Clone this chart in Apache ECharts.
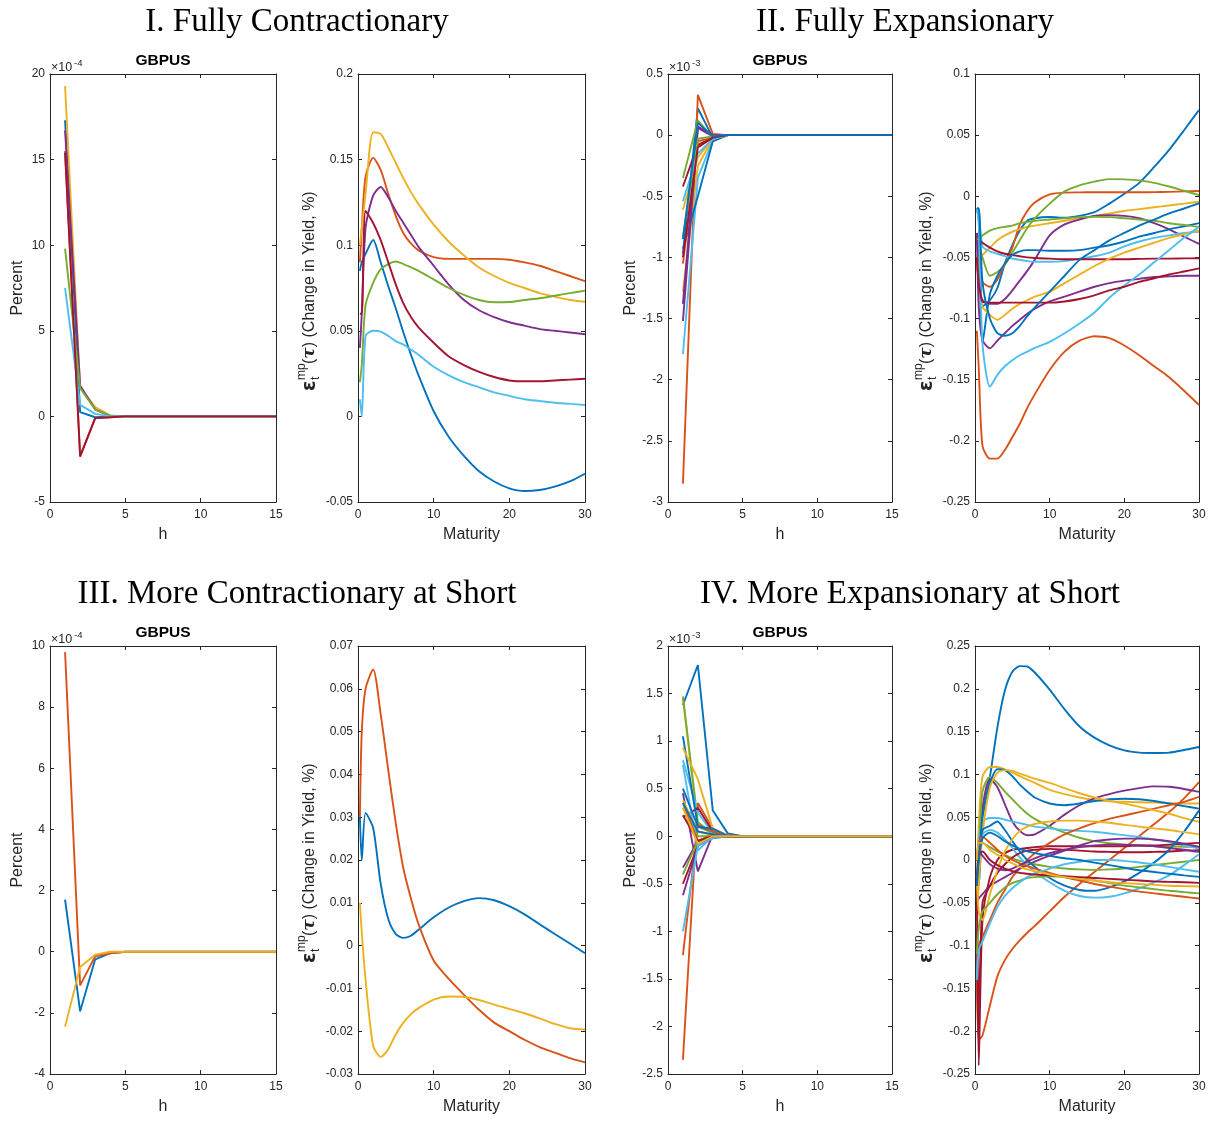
<!DOCTYPE html>
<html><head><meta charset="utf-8">
<script src="https://cdn.jsdelivr.net/npm/echarts/dist/echarts.min.js"></script>
<style>html,body{margin:0;padding:0;background:#fff}#c{width:1211px;height:1122px}</style>
</head><body><div id="c"></div>
<script>
// ---------- shared x grids ----------
const horizon = [1,2,3,4,5,6,7,8,9,10,11,12,13,14,15];
const maturity = [0.25,0.5,1,2,3,4,5,6,7,8,10,12,14,16,18,20,22,24,26,28,30];

// ---------- I. Fully Contractionary ----------
const irfIColors = ['b','o','y','p','g','c','r'];
const irfI = [
 [17.3,0.25,-0.05,0,0,0,0,0,0,0,0,0,0,0,0],
 [15.5,-2.3,-0.1,-0.05,0,0,0,0,0,0,0,0,0,0,0],
 [19.3,1.7,0.55,0.05,0,0,0,0,0,0,0,0,0,0,0],
 [16.7,1.8,0.4,0.03,0,0,0,0,0,0,0,0,0,0,0],
 [9.8,1.65,0.4,0.03,0,0,0,0,0,0,0,0,0,0,0],
 [7.5,0.67,0.15,0,0,0,0,0,0,0,0,0,0,0,0],
 [15.4,-2.35,-0.1,-0.05,0,0,0,0,0,0,0,0,0,0,0]
];
const yldIColors = ['b','o','y','p','g','c','r'];
const yldI = [
 [0.085,0.09,0.095,0.103,0.090,0.076,0.063,0.049,0.036,0.024,0.003,-0.012,-0.023,-0.032,-0.038,-0.042,-0.0436,-0.043,-0.041,-0.038,-0.0335],
 [0.090,0.110,0.140,0.151,0.144,0.130,0.117,0.107,0.101,0.097,0.093,0.092,0.092,0.092,0.092,0.0915,0.090,0.088,0.085,0.082,0.079],
 [0.100,0.110,0.130,0.166,0.165,0.157,0.148,0.139,0.131,0.124,0.112,0.102,0.094,0.087,0.082,0.078,0.075,0.072,0.070,0.068,0.067],
 [0.040,0.060,0.110,0.129,0.134,0.128,0.120,0.113,0.106,0.099,0.088,0.077,0.068,0.062,0.058,0.055,0.053,0.051,0.050,0.049,0.048],
 [0.020,0.030,0.065,0.078,0.086,0.089,0.0905,0.089,0.087,0.085,0.080,0.075,0.071,0.068,0.0667,0.0668,0.068,0.069,0.0705,0.072,0.0735],
 [0.010,0.000,0.047,0.050,0.0495,0.047,0.044,0.042,0.039,0.036,0.029,0.024,0.020,0.017,0.014,0.012,0.010,0.009,0.008,0.0073,0.0067],
 [0.060,0.060,0.120,0.113,0.103,0.090,0.077,0.066,0.058,0.052,0.043,0.035,0.030,0.026,0.023,0.021,0.0205,0.0205,0.021,0.0215,0.022]
];

// ---------- II. Fully Expansionary ----------
const irfIIColors = ['b','o','y','p','g','c','r','b','o','y','p','g','c','r','b'];
const irfII = [
 [-0.97,0.22,-0.02,0,0,0,0,0,0,0,0,0,0,0,0],
 [-2.85,0.33,0.01,0,0,0,0,0,0,0,0,0,0,0,0],
 [-1.28,-0.25,-0.03,0,0,0,0,0,0,0,0,0,0,0,0],
 [-1.52,0.06,-0.01,0,0,0,0,0,0,0,0,0,0,0,0],
 [-0.35,0.12,-0.02,0,0,0,0,0,0,0,0,0,0,0,0],
 [-1.79,-0.35,-0.04,0,0,0,0,0,0,0,0,0,0,0,0],
 [-0.42,-0.08,-0.02,0,0,0,0,0,0,0,0,0,0,0,0],
 [-0.93,-0.50,-0.05,0,0,0,0,0,0,0,0,0,0,0,0],
 [-1.05,-0.05,-0.02,0,0,0,0,0,0,0,0,0,0,0,0],
 [-0.61,-0.18,-0.03,0,0,0,0,0,0,0,0,0,0,0,0],
 [-1.38,0.07,0,0,0,0,0,0,0,0,0,0,0,0,0],
 [-0.83,-0.03,-0.01,0,0,0,0,0,0,0,0,0,0,0,0],
 [-0.54,-0.15,-0.03,0,0,0,0,0,0,0,0,0,0,0,0],
 [-1.00,-0.10,-0.02,0,0,0,0,0,0,0,0,0,0,0,0],
 [-0.85,0.10,-0.01,0,0,0,0,0,0,0,0,0,0,0,0]
];
const yldIIColors = ['b','o','y','p','g','c','r','b','o','y','p','g','c','r','b'];
const yldII = [
 [-0.010,-0.010,-0.090,-0.085,-0.075,-0.055,-0.040,-0.028,-0.020,-0.018,-0.017,-0.0175,-0.016,-0.013,-0.006,0.002,0.011,0.024,0.038,0.054,0.0706],
 [-0.030,-0.050,-0.070,-0.074,-0.068,-0.055,-0.042,-0.023,-0.012,-0.005,0.0015,0.003,0.0032,0.0033,0.0033,0.0033,0.0033,0.0034,0.0036,0.004,0.0043],
 [-0.050,-0.050,-0.048,-0.042,-0.036,-0.032,-0.029,-0.027,-0.025,-0.024,-0.022,-0.020,-0.018,-0.016,-0.014,-0.012,-0.0105,-0.009,-0.0075,-0.006,-0.0044],
 [-0.050,-0.070,-0.085,-0.088,-0.088,-0.084,-0.077,-0.069,-0.061,-0.052,-0.032,-0.023,-0.019,-0.016,-0.0155,-0.016,-0.018,-0.022,-0.027,-0.033,-0.039],
 [-0.035,-0.040,-0.050,-0.065,-0.062,-0.056,-0.046,-0.036,-0.026,-0.018,-0.006,0.004,0.009,0.012,0.014,0.0138,0.013,0.011,0.008,0.0045,0.001],
 [-0.010,-0.012,-0.041,-0.045,-0.047,-0.049,-0.051,-0.052,-0.053,-0.0535,-0.0535,-0.053,-0.051,-0.049,-0.046,-0.041,-0.037,-0.034,-0.032,-0.030,-0.029],
 [-0.030,-0.035,-0.038,-0.042,-0.045,-0.047,-0.048,-0.049,-0.050,-0.0505,-0.051,-0.0515,-0.0515,-0.0515,-0.0515,-0.0515,-0.0512,-0.051,-0.051,-0.0508,-0.0507],
 [-0.010,-0.020,-0.120,-0.080,-0.065,-0.055,-0.048,-0.045,-0.044,-0.044,-0.0445,-0.0445,-0.044,-0.042,-0.040,-0.037,-0.033,-0.030,-0.027,-0.0245,-0.022],
 [-0.110,-0.140,-0.204,-0.2145,-0.2145,-0.2075,-0.197,-0.186,-0.173,-0.162,-0.142,-0.127,-0.118,-0.1145,-0.116,-0.122,-0.130,-0.139,-0.148,-0.159,-0.1707],
 [-0.050,-0.070,-0.090,-0.097,-0.101,-0.097,-0.092,-0.088,-0.085,-0.082,-0.078,-0.071,-0.064,-0.057,-0.051,-0.046,-0.042,-0.038,-0.034,-0.031,-0.028],
 [-0.030,-0.090,-0.1175,-0.1243,-0.118,-0.112,-0.106,-0.101,-0.096,-0.092,-0.086,-0.082,-0.078,-0.074,-0.071,-0.069,-0.0675,-0.066,-0.0655,-0.065,-0.065],
 [-0.035,-0.035,-0.032,-0.028,-0.026,-0.025,-0.024,-0.022,-0.021,-0.020,-0.019,-0.018,-0.017,-0.0168,-0.017,-0.018,-0.019,-0.020,-0.022,-0.0235,-0.025],
 [-0.010,-0.020,-0.120,-0.1557,-0.146,-0.139,-0.134,-0.130,-0.127,-0.124,-0.119,-0.112,-0.104,-0.095,-0.083,-0.073,-0.064,-0.054,-0.044,-0.034,-0.025],
 [-0.050,-0.070,-0.086,-0.087,-0.087,-0.087,-0.087,-0.087,-0.087,-0.087,-0.087,-0.086,-0.084,-0.081,-0.077,-0.074,-0.070,-0.067,-0.064,-0.0615,-0.059],
 [-0.010,-0.010,-0.070,-0.100,-0.112,-0.114,-0.112,-0.106,-0.098,-0.091,-0.078,-0.065,-0.052,-0.044,-0.036,-0.030,-0.024,-0.019,-0.014,-0.010,-0.0057]
];

// ---------- III. More Contractionary at Short ----------
const irfIIIColors = ['b','o','y'];
const irfIII = [
 [1.7,-1.95,-0.25,-0.05,0,0,0,0,0,0,0,0,0,0,0],
 [9.8,-1.1,-0.15,-0.05,0,0,0,0,0,0,0,0,0,0,0],
 [-2.45,-0.5,-0.1,0,0,0,0,0,0,0,0,0,0,0,0]
];
const yldIIIColors = ['b','o','y'];
const yldIII = [
 [0.030,0.020,0.031,0.0275,0.0144,0.0062,0.0027,0.0018,0.0023,0.0037,0.0066,0.0089,0.0104,0.0111,0.0106,0.0092,0.0073,0.0050,0.0027,0.0005,-0.0018],
 [0.030,0.050,0.060,0.0645,0.054,0.041,0.0285,0.018,0.011,0.005,-0.0035,-0.0078,-0.0115,-0.015,-0.018,-0.020,-0.022,-0.0237,-0.025,-0.0263,-0.0273],
 [0.010,0.003,-0.008,-0.0234,-0.026,-0.0242,-0.0207,-0.018,-0.016,-0.0146,-0.0126,-0.0119,-0.012,-0.0127,-0.0138,-0.0148,-0.0158,-0.0170,-0.0183,-0.0193,-0.0196]
];

// ---------- IV. More Expansionary at Short ----------
const irfIVColors = ['b','o','y','p','g','c','r','b','o','y','p','g','c','r','b','o','y','p','g','c','r','b','y'];
const irfIV = [
 [1.38,1.80,0.27,0.03,0,0,0,0,0,0,0,0,0,0,0],
 [-2.35,0.35,0.08,0.01,0,0,0,0,0,0,0,0,0,0,0],
 [1.45,0.10,0.03,0,0,0,0,0,0,0,0,0,0,0,0],
 [0.45,-0.37,0.02,0,0,0,0,0,0,0,0,0,0,0,0],
 [1.47,0.15,0.02,0,0,0,0,0,0,0,0,0,0,0,0],
 [0.80,0.25,0.03,0,0,0,0,0,0,0,0,0,0,0,0],
 [0.20,0.30,0.05,0,0,0,0,0,0,0,0,0,0,0,0],
 [1.05,0.10,0.05,0,0,0,0,0,0,0,0,0,0,0,0],
 [-1.25,0.12,0.05,0,0,0,0,0,0,0,0,0,0,0,0],
 [0.93,0.60,0.08,0,0,0,0,0,0,0,0,0,0,0,0],
 [-0.33,-0.05,0,0,0,0,0,0,0,0,0,0,0,0,0],
 [0.30,0,0,0,0,0,0,0,0,0,0,0,0,0,0],
 [0.75,-0.15,0,0,0,0,0,0,0,0,0,0,0,0,0],
 [-0.50,-0.10,0,0,0,0,0,0,0,0,0,0,0,0,0],
 [0.50,0.10,0.08,0,0,0,0,0,0,0,0,0,0,0,0],
 [0.35,-0.05,0.02,0,0,0,0,0,0,0,0,0,0,0,0],
 [0.38,0.05,0.01,0,0,0,0,0,0,0,0,0,0,0,0],
 [-0.62,-0.10,-0.02,0,0,0,0,0,0,0,0,0,0,0,0],
 [-0.40,-0.05,0,0,0,0,0,0,0,0,0,0,0,0,0],
 [-1.00,-0.10,-0.02,0,0,0,0,0,0,0,0,0,0,0,0],
 [0.22,-0.05,0,0,0,0,0,0,0,0,0,0,0,0,0],
 [0.35,0.05,0.02,0,0,0,0,0,0,0,0,0,0,0,0],
 [0.30,-0.08,0,0,0,0,0,0,0,0,0,0,0,0,0]
];
const yldIVColors = irfIVColors;
const yldIV = [
 [-0.030,-0.030,0.050,0.097,0.155,0.198,0.220,0.2265,0.226,0.219,0.199,0.176,0.156,0.143,0.134,0.128,0.1255,0.125,0.1255,0.1285,0.132],
 [-0.140,-0.210,-0.205,-0.170,-0.136,-0.117,-0.104,-0.094,-0.085,-0.077,-0.060,-0.043,-0.028,-0.014,0.000,0.014,0.028,0.042,0.056,0.072,0.091],
 [-0.020,0.040,0.097,0.1087,0.1087,0.106,0.102,0.098,0.094,0.090,0.082,0.077,0.073,0.070,0.0685,0.068,0.0675,0.067,0.0665,0.066,0.066],
 [-0.040,0.000,0.060,0.095,0.085,0.065,0.045,0.034,0.029,0.030,0.040,0.053,0.064,0.072,0.077,0.081,0.084,0.086,0.0855,0.083,0.0796],
 [-0.050,0.000,0.080,0.097,0.090,0.080,0.071,0.062,0.054,0.048,0.039,0.032,0.026,0.022,0.0195,0.018,0.017,0.0165,0.016,0.0155,0.0154],
 [0.000,0.020,0.045,0.049,0.049,0.047,0.045,0.043,0.041,0.039,0.037,0.035,0.034,0.033,0.031,0.029,0.027,0.024,0.021,0.017,0.0134],
 [-0.050,-0.240,-0.070,-0.020,0.000,0.008,0.012,0.013,0.014,0.015,0.016,0.016,0.016,0.016,0.016,0.016,0.017,0.017,0.018,0.019,0.020],
 [-0.030,0.000,0.050,0.089,0.106,0.105,0.098,0.088,0.080,0.073,0.066,0.064,0.066,0.069,0.071,0.0715,0.071,0.069,0.066,0.063,0.060],
 [-0.140,-0.100,-0.090,-0.070,-0.050,-0.035,-0.020,-0.010,0.000,0.008,0.020,0.030,0.037,0.043,0.048,0.052,0.056,0.060,0.064,0.068,0.0737],
 [-0.080,-0.030,0.030,0.085,0.102,0.105,0.104,0.101,0.098,0.095,0.090,0.084,0.078,0.073,0.069,0.066,0.062,0.058,0.054,0.049,0.0446],
 [-0.050,-0.045,-0.040,-0.030,-0.025,-0.020,-0.015,-0.010,-0.006,-0.002,0.005,0.011,0.017,0.022,0.024,0.025,0.025,0.024,0.022,0.019,0.0154],
 [0.000,0.010,0.020,0.015,0.010,0.006,0.002,-0.001,-0.003,-0.005,-0.008,-0.010,-0.011,-0.0115,-0.011,-0.010,-0.008,-0.006,-0.004,-0.002,0.000],
 [-0.020,0.010,0.030,0.035,0.032,0.024,0.014,0.003,-0.006,-0.014,-0.026,-0.036,-0.042,-0.044,-0.043,-0.039,-0.033,-0.026,-0.018,-0.006,0.0068],
 [-0.030,-0.190,-0.050,-0.030,-0.015,-0.005,0.003,0.008,0.011,0.012,0.013,0.012,0.011,0.010,0.0095,0.009,0.009,0.0095,0.010,0.011,0.0115],
 [-0.020,0.000,0.035,0.040,0.045,0.035,0.022,0.010,0.000,-0.008,-0.021,-0.030,-0.035,-0.036,-0.032,-0.025,-0.015,-0.003,0.012,0.033,0.058],
 [0.000,0.020,0.027,0.020,0.012,0.005,0.000,-0.004,-0.007,-0.010,-0.015,-0.020,-0.024,-0.028,-0.031,-0.034,-0.037,-0.039,-0.041,-0.043,-0.045],
 [-0.020,-0.060,-0.070,-0.040,-0.012,0.010,0.024,0.034,0.039,0.042,0.045,0.046,0.046,0.045,0.0435,0.041,0.039,0.037,0.035,0.0325,0.030],
 [0.000,0.010,0.005,-0.005,-0.010,-0.012,-0.010,-0.006,-0.002,0.002,0.008,0.012,0.015,0.017,0.018,0.018,0.017,0.016,0.014,0.012,0.0095],
 [-0.110,-0.080,-0.060,-0.050,-0.040,-0.032,-0.027,-0.024,-0.021,-0.020,-0.019,-0.020,-0.022,-0.024,-0.027,-0.030,-0.032,-0.034,-0.036,-0.0375,-0.039],
 [-0.140,-0.105,-0.095,-0.074,-0.055,-0.042,-0.033,-0.026,-0.020,-0.016,-0.010,-0.005,-0.002,0.000,0.000,-0.001,-0.003,-0.005,-0.008,-0.011,-0.0138],
 [-0.030,0.005,0.010,0.000,-0.006,-0.010,-0.013,-0.015,-0.016,-0.017,-0.018,-0.019,-0.020,-0.021,-0.022,-0.023,-0.024,-0.025,-0.0255,-0.026,-0.0267],
 [-0.030,0.000,0.025,0.032,0.028,0.022,0.017,0.013,0.010,0.008,0.005,0.002,0.000,-0.003,-0.006,-0.009,-0.012,-0.014,-0.016,-0.018,-0.0197],
 [0.000,0.020,0.020,0.012,0.006,0.000,-0.004,-0.008,-0.011,-0.013,-0.017,-0.020,-0.022,-0.024,-0.026,-0.027,-0.028,-0.029,-0.030,-0.0305,-0.031]
];

// ---------- axis setups ----------
const yMins  = [-5, -0.05, -3, -0.25, -4, -0.03, -2.5, -0.25];
const yMaxs  = [20, 0.2, 0.5, 0.1, 10, 0.07, 2, 0.25];
const ySteps = [5, 0.05, 0.5, 0.05, 2, 0.01, 0.5, 0.05];
const exponents = ['-4', '-3', '-4', '-3'];
const panelTitles = ['I. Fully Contractionary', 'II. Fully Expansionary', 'III. More Contractionary at Short', 'IV. More Expansionary at Short'];

const COL = {b:'#0072BD', o:'#D95319', y:'#EDB120', p:'#7E2F8E', g:'#77AC30', c:'#4DBEEE', r:'#A2142F'};
const FONT = '"Liberation Sans", Arial, Helvetica, sans-serif';
const AX = '#262626';

const lefts = [50, 358, 668, 975];
const widths = [226, 227, 224, 224];
const tops = [74, 646];
const H = 428;

const grids = [], xAxes = [], yAxes = [], series = [], graphics = [];
const panelData = [
  [irfI, irfIColors, 'irf'], [yldI, yldIColors, 'yld'],
  [irfII, irfIIColors, 'irf'], [yldII, yldIIColors, 'yld'],
  [irfIII, irfIIIColors, 'irf'], [yldIII, yldIIIColors, 'yld'],
  [irfIV, irfIVColors, 'irf'], [yldIV, yldIVColors, 'yld']
];

for (let i = 0; i < 8; i++) {
  const row = i < 4 ? 0 : 1, col = i % 4;
  grids.push({left: lefts[col], top: tops[row], width: widths[col], height: H, containLabel: false});
}
function baseAxis(extra) {
  return Object.assign({
    type: 'value',
    axisLine: {show: true, onZero: false, lineStyle: {color: AX, width: 1}},
    axisTick: {show: true, inside: true, length: 4, lineStyle: {color: AX}},
    splitLine: {show: false},
    axisLabel: {color: AX, fontSize: 12, fontFamily: FONT}
  }, extra);
}
// primary axes (0..7)
for (let i = 0; i < 8; i++) {
  const isIrf = panelData[i][2] === 'irf';
  xAxes.push(baseAxis({gridIndex: i, position: 'bottom', min: 0, max: isIrf ? 15 : 30, interval: isIrf ? 5 : 10,
    name: isIrf ? 'h' : 'Maturity', nameLocation: 'middle', nameGap: 25,
    nameTextStyle: {color: AX, fontSize: 16, fontFamily: FONT},
    axisLabel: {color: AX, fontSize: 12, fontFamily: FONT, margin: 7}}));
  yAxes.push(baseAxis({gridIndex: i, position: 'left', min: yMins[i], max: yMaxs[i], interval: ySteps[i],
    name: isIrf ? 'Percent' : '', nameLocation: 'middle', nameGap: 24,
    nameTextStyle: {color: AX, fontSize: 16, fontFamily: FONT},
    axisLabel: {color: AX, fontSize: 12, fontFamily: FONT, margin: 5}}));
}
// mirror axes (8..15) for the box
for (let i = 0; i < 8; i++) {
  const isIrf = panelData[i][2] === 'irf';
  xAxes.push(baseAxis({gridIndex: i, position: 'top', min: 0, max: isIrf ? 15 : 30, interval: isIrf ? 5 : 10, axisLabel: {show: false}}));
  yAxes.push(baseAxis({gridIndex: i, position: 'right', min: yMins[i], max: yMaxs[i], interval: ySteps[i], axisLabel: {show: false}}));
}
// series
for (let i = 0; i < 8; i++) {
  const [arrs, cols, kind] = panelData[i];
  const xs = kind === 'irf' ? horizon : maturity;
  arrs.forEach((vals, k) => {
    series.push({
      type: 'line', xAxisIndex: i, yAxisIndex: i, showSymbol: false, symbol: 'none',
      smooth: kind === 'yld' ? 0.25 : false, animation: false, silent: true,
      lineStyle: {color: COL[cols[k]], width: 1.9}, itemStyle: {color: COL[cols[k]]},
      data: xs.map((x, j) => [x, vals[j]])
    });
  });
}
// texts
const titleCenters = [[297, 22], [905, 22], [297, 594], [910, 594]];
panelTitles.forEach((t, p) => {
  graphics.push({type: 'text', x: titleCenters[p][0], y: titleCenters[p][1],
    style: {text: t, fontSize: 33, fontFamily: '"Liberation Serif", "DejaVu Serif", serif', fill: '#000', align: 'center', verticalAlign: 'middle'}});
});
for (let p = 0; p < 4; p++) {
  const col = (p % 2) * 2, row = p < 2 ? 0 : 1;
  const gx = lefts[col], gy = tops[row];
  // GBPUS title over IRF panel
  graphics.push({type: 'text', x: gx + widths[col] / 2, y: gy - 13,
    style: {text: 'GBPUS', fontSize: 15.5, fontWeight: 'bold', fontFamily: FONT, fill: '#000', align: 'center', verticalAlign: 'middle'}});
  // exponent
  graphics.push({type: 'text', x: gx + 1, y: gy - 6,
    style: {text: '×10', fontSize: 12.5, fontFamily: FONT, fill: AX, align: 'left', verticalAlign: 'middle'}});
  graphics.push({type: 'text', x: gx + 24, y: gy - 11,
    style: {text: exponents[p], fontSize: 9.5, fontFamily: FONT, fill: AX, align: 'left', verticalAlign: 'middle'}});
  // yield axis label (rotated)
  const yx = lefts[col + 1] - 48, yy = gy + 317;
  graphics.push({type: 'group', x: yx, y: yy, rotation: Math.PI / 2, children: [
    {type: 'text', x: 0, y: 0, style: {text: 'ε', fontSize: 19, fontWeight: 'bold', fontFamily: '"DejaVu Sans", sans-serif', fill: AX, align: 'left', verticalAlign: 'middle'}},
    {type: 'text', x: 11, y: -8, style: {text: 'mp', fontSize: 12, fontFamily: FONT, fill: AX, align: 'left', verticalAlign: 'middle'}},
    {type: 'text', x: 11, y: 6, style: {text: 't', fontSize: 12, fontFamily: FONT, fill: AX, align: 'left', verticalAlign: 'middle'}},
    {type: 'text', x: 27, y: 0, style: {
      text: '{a|(}{b|τ}{a|) (Change in Yield, %)}', fill: AX, align: 'left', verticalAlign: 'middle',
      rich: {a: {fontSize: 16, fontFamily: FONT, fill: AX}, b: {fontSize: 17, fontWeight: 'bold', fontStyle: 'italic', fontFamily: '"DejaVu Serif", serif', fill: AX}}}}
  ]});
}

const chart = echarts.init(document.getElementById('c'), null, {renderer: 'canvas'});
chart.setOption({
  animation: false, backgroundColor: '#fff',
  grid: grids, xAxis: xAxes, yAxis: yAxes, series: series, graphic: graphics
});
</script></body></html>
